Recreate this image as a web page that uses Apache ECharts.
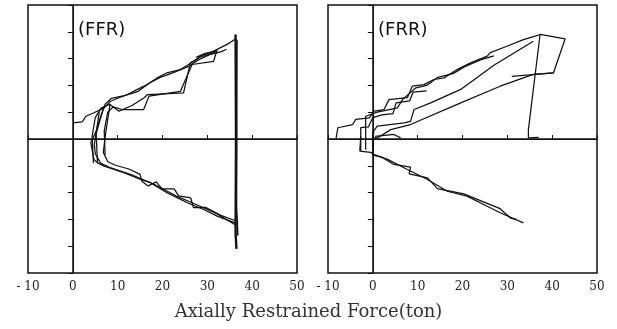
<!DOCTYPE html>
<html>
<head>
<meta charset="utf-8">
<script src="https://cdn.jsdelivr.net/npm/echarts@6.0.0/dist/echarts.min.js"></script>
<style>
    html, body { margin: 0; padding: 0; background: #fff; }
    #chart { width: 617px; height: 329px; }
</style>
</head>
<body>
<div id="chart"></div>
<script>
// x ticks (ton) and y ticks (unlabelled)
const xTicks = [-10, 0, 10, 20, 30, 40, 50];
const yTicks = [-5, -4, -3, -2, -1, 0, 1, 2, 3, 4, 5];
const panelNames = ['(FFR)', '(FRR)'];

// (FFR) traces, [force, y]
const ffrUp1 = [[0, 0.6], [2.1, 0.64], [2.9, 0.85], [4.7, 0.98], [7.0, 1.16], [8.4, 1.41], [10.3, 1.54], [12.2, 1.66], [14.4, 1.85], [16.6, 2.03], [18.8, 2.28], [21, 2.47], [24, 2.59], [27, 2.9], [28.4, 3.09], [31.4, 3.28], [34.4, 3.53], [36.2, 3.72]];
const ffrUp2 = [[4.6, -0.9], [4.3, 0.1], [5.0, 0.8], [6.3, 1.15], [8.2, 1.3], [10.3, 1.04], [13.2, 1.25], [15.9, 1.54], [16.7, 1.66], [24.7, 1.72], [26.2, 2.84], [28.4, 3.05], [31.4, 3.22], [32.3, 3.3]];
const ffrUp3 = [[5.5, -0.9], [5.2, 0.2], [6.4, 0.9], [7.2, 1.3], [8.6, 1.52], [11.5, 1.62], [14.6, 1.78], [17, 2.08], [19.5, 2.3], [22, 2.45], [26, 2.72], [28, 2.95], [30.5, 3.15], [33, 3.25], [34.3, 3.35]];
const ffrUp4 = [[7.2, -0.6], [7.0, 0.3], [7.8, 1.0], [9, 1.2], [11, 1.1], [15.8, 1.1], [17, 1.6], [24, 1.78], [26.6, 2.78], [31.4, 2.9], [32.1, 3.28], [29.5, 3.2], [27.5, 3.05]];
const ffrLow1 = [[6.9, 1.2], [5.2, 0.3], [4.0, -0.14], [4.7, -0.76], [5.5, -0.89], [7.0, -1.01], [11.4, -1.26], [15.1, -1.51], [17.3, -1.63], [21, -2.0], [25.5, -2.38], [29.2, -2.63], [32.2, -2.88], [36.2, -3.13]];
const ffrLow2 = [[8.3, 1.3], [7.3, 0.2], [6.8, -0.5], [7.8, -0.85], [9.5, -0.98], [12.5, -1.12], [15, -1.32], [15.4, -1.58], [16.8, -1.75], [18.6, -1.6], [19.9, -1.86], [22.6, -1.86], [23.6, -2.12], [26.3, -2.2], [26.9, -2.56], [29.6, -2.55], [33, -2.85], [36.3, -3.05]];
const ffrLow3 = [[5.9, 1.0], [4.8, -0.2], [5.0, -0.55], [6.2, -0.9], [8.5, -1.08], [13, -1.33], [18, -1.68], [23, -2.12], [28, -2.48], [32, -2.78], [36.2, -3.2]];
const ffrVert = [[36.3, 3.9], [36.4, 0], [36.3, -3.5], [36.5, -4.1]];
const ffrVert2 = [[36.6, 3.7], [36.5, -2.5], [36.8, -3.6]];

// (FRR) traces
const frrTop = [[-8.2, 0.02], [-7.8, 0.42], [-4.5, 0.54], [-3.8, 0.73], [-0.8, 0.79], [0.3, 1.04], [2.5, 1.1], [3.6, 1.47], [7.7, 1.54], [8.8, 1.97], [11.4, 2.03], [13.6, 2.22], [15.9, 2.28], [18.8, 2.59], [21.8, 2.84], [25.5, 3.09], [26.2, 3.22], [29.9, 3.46], [33.6, 3.71], [36.2, 3.84], [37.3, 3.9]];
const frrStep2 = [[-1.6, -0.4], [-1.6, 0.85], [1.0, 1.0], [5.5, 1.16], [6.6, 1.47], [9.6, 1.91], [12, 2.0], [14.5, 2.3], [18, 2.45], [20.5, 2.7], [24, 2.95], [27, 3.1]];
const frrStep3 = [[-2.7, -0.45], [-2.7, 0.42], [-1, 0.45], [0, 0.8], [2, 0.9], [4.5, 0.95], [5.2, 1.35], [8.2, 1.42], [9, 1.75], [12, 1.8]];
const frrMid = [[0, -0.3], [0.2, 0.3], [1, 0.48], [7, 0.6], [8.4, 0.66], [9.2, 1.1], [12.9, 1.35], [19.6, 1.85], [27, 2.75], [35.8, 3.65]];
const frrLowest = [[-0.2, 0.04], [1, 0.04], [4, 0.35], [8.4, 0.54], [19.6, 1.35], [28.4, 1.97], [35.8, 2.41], [40.3, 2.47], [42.9, 3.74], [37.3, 3.9], [34.7, 0.35], [34.7, 0.04], [37, 0.06]];
const frrTail = [[31, 2.34], [40.3, 2.47]];
const frrSmall = [[0.5, 0.1], [4.7, 0.17], [6.2, 0.04]];
const frrLow1 = [[-2.7, 0.1], [-2.9, -0.45], [-0.5, -0.5], [0.3, -0.58], [3.3, -0.76], [7.7, -1.14], [12.2, -1.51], [16.6, -1.95], [21, -2.13], [25.5, -2.51], [28.4, -2.75], [33.6, -3.13]];
const frrLow2 = [[0, 0.3], [0, -0.6], [2, -0.68], [4.7, -0.95], [8.4, -1.05], [8.1, -1.3], [12.2, -1.45], [14.4, -1.85], [20.3, -2.05], [25.5, -2.4], [28.4, -2.6], [30.7, -2.95], [32, -3.0]];

const ffrTraces = [ffrUp1, ffrUp2, ffrUp3, ffrUp4, ffrLow1, ffrLow2, ffrLow3];
const frrTraces = [frrTop, frrStep2, frrStep3, frrMid, frrLowest, frrTail, frrSmall, frrLow1, frrLow2];

const ink = '#111';

function trace(data, idx, width) {
    return {
        type: 'line',
        xAxisIndex: idx,
        yAxisIndex: idx,
        data: data,
        symbol: 'none',
        silent: true,
        lineStyle: { color: ink, width: width || 1.25 },
    };
}

// zero cross lines of each panel
function zeroLines(idx) {
    return {
        type: 'line',
        xAxisIndex: idx,
        yAxisIndex: idx,
        data: [],
        markLine: {
            silent: true,
            symbol: 'none',
            label: { show: false },
            lineStyle: { color: ink, width: 1, type: 'solid' },
            data: [{ xAxis: 0 }, { yAxis: 0 }],
        },
    };
}

function xAxis(idx) {
    return {
        type: 'value',
        gridIndex: idx,
        min: xTicks[0],
        max: xTicks[xTicks.length - 1],
        interval: 10,
        axisLine: { lineStyle: { color: ink, width: 1.5 } },
        axisTick: { inside: true, length: 4, lineStyle: { color: ink } },
        splitLine: { show: false },
        axisLabel: {
            color: '#222',
            fontFamily: 'DejaVu Serif',
            fontSize: 12,
            margin: 8,
            formatter: v => (v < 0 ? '- ' + (-v) : String(v)),
        },
    };
}

function yAxis(idx) {
    return {
        type: 'value',
        gridIndex: idx,
        min: yTicks[0],
        max: yTicks[yTicks.length - 1],
        interval: 1,
        axisLine: { lineStyle: { color: ink, width: 1.5 } },
        axisTick: { inside: false, length: 5, lineStyle: { color: ink } },
        splitLine: { show: false },
        axisLabel: { show: false },
    };
}

const myChart = echarts.init(document.getElementById('chart'), null, { renderer: 'canvas' });

const series = [zeroLines(0), zeroLines(1)];
ffrTraces.forEach(d => series.push(trace(d, 0)));
series.push(trace(ffrVert, 0, 2.4));
series.push(trace(ffrVert2, 0, 1.6));
frrTraces.forEach(d => series.push(trace(d, 1)));

const option = {
    animation: false,
    backgroundColor: '#fff',
    grid: [
        { left: 28, top: 5, width: 269, height: 268, show: true, borderColor: ink, borderWidth: 1.5 },
        { left: 328, top: 5, width: 269, height: 268, show: true, borderColor: ink, borderWidth: 1.5 },
    ],
    xAxis: [xAxis(0), xAxis(1)],
    yAxis: [yAxis(0), yAxis(1)],
    graphic: [
        { type: 'text', left: 78, top: 21, style: { text: panelNames[0], font: '18px "DejaVu Sans"', fill: ink } },
        { type: 'text', left: 378, top: 21, style: { text: panelNames[1], font: '18px "DejaVu Sans"', fill: ink } },
        {
            type: 'text', left: 'center', top: 303,
            style: { text: 'Axially Restrained Force(ton)', font: '18px "DejaVu Serif"', fill: '#333' },
        },
    ],
    series: series,
};

myChart.setOption(option);
</script>
</body>
</html>
